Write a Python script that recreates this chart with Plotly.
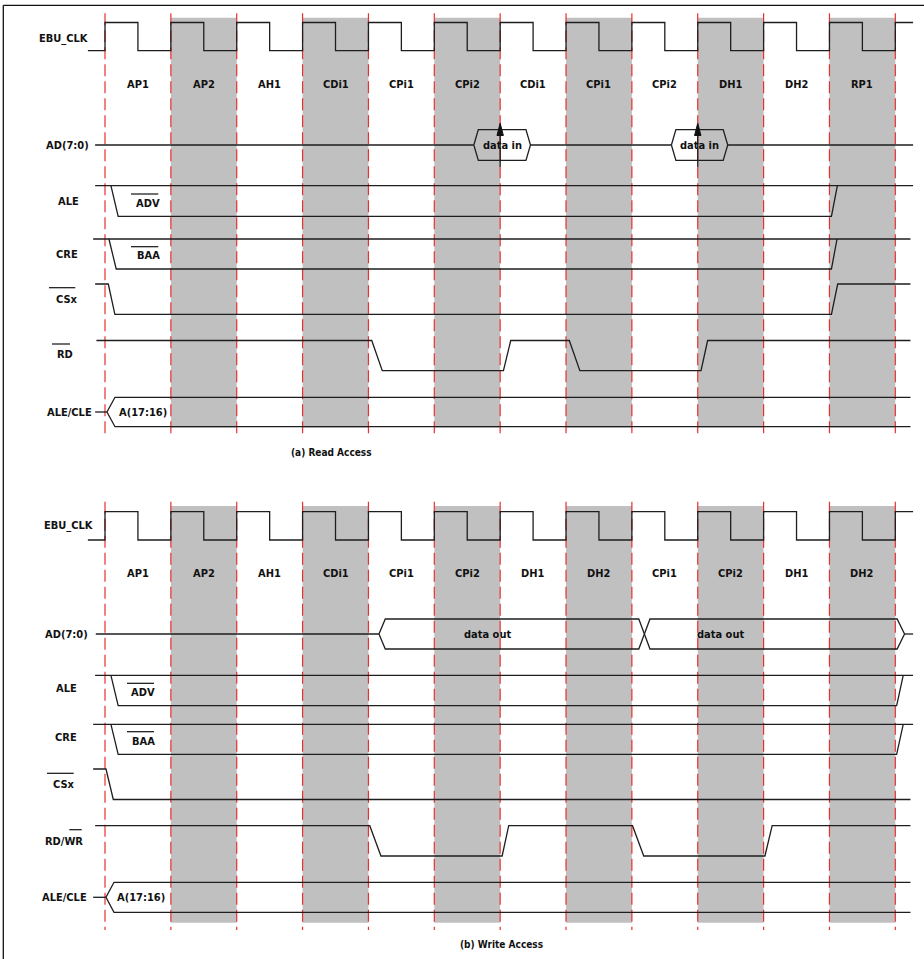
import plotly.graph_objects as go

# ---------------------------------------------------------------- data
# time axis is in EBU_CLK cycles (0 = first rising edge of the access)
read_phases = ["AP1", "AP2", "AH1", "CDi1", "CPi1", "CPi2", "CDi1", "CPi1", "CPi2", "DH1", "DH2", "RP1"]
write_phases = ["AP1", "AP2", "AH1", "CDi1", "CPi1", "CPi2", "DH1", "DH2", "CPi1", "CPi2", "DH1", "DH2"]

signal_names_read = ["EBU_CLK", "AD(7:0)", "ALE", "CRE", "CSx", "RD", "ALE/CLE"]
signal_names_write = ["EBU_CLK", "AD(7:0)", "ALE", "CRE", "CSx", "RD/WR", "ALE/CLE"]

# clock: level of each half cycle starting at t = 0 (last one is cut at clk_end)
clk_levels = [1, 0, 1, 0, 1, 0, 1, 0, 1, 0, 1, 0, 1, 0, 1, 0, 1, 0, 1, 0, 1, 0, 1, 0, 1]
clk_start, clk_end = -0.26, 12.27

# ---- (a) read access : (time, level) vertices
read_ale_t = [0.09, 0.20, 11.03, 11.12]
read_ale_v = [1, 0, 0, 1]
read_cre_t = [0.06, 0.17, 11.03, 11.115]
read_cre_v = [1, 0, 0, 1]
read_csx_t = [-0.15, 0.05, 0.15, 11.03, 11.125, 12.23]
read_csx_v = [1, 1, 0, 0, 1, 1]
read_rd_t = [-0.13, 4.05, 4.21, 6.05, 6.16, 7.05, 7.21, 9.05, 9.15, 12.23]
read_rd_v = [1, 1, 0, 0, 1, 1, 0, 0, 1, 1]
read_data_in = [(5.60, 6.46), (8.60, 9.455)]      # "data in" windows on AD(7:0)
read_sample_t = [6, 9]                             # sampling edges (arrows)
read_addr_bus = (-0.15, 0.03, 12.23)               # stub start, bus start, bus end

# ---- (b) write access
write_ale_t = [0.09, 0.20, 12.02, 12.12]
write_ale_v = [1, 0, 0, 1]
write_cre_t = [0.09, 0.20, 12.02, 12.12]
write_cre_v = [1, 0, 0, 1]
write_csx_t = [-0.18, 0.015, 0.126, 12.23]
write_csx_v = [1, 1, 0, 0]
write_rd_t = [-0.15, 4.02, 4.19, 6.03, 6.13, 8.01, 8.18, 10.02, 10.13, 12.23]
write_rd_v = [1, 1, 0, 0, 1, 1, 0, 0, 1, 1]
write_data_out = [(4.16, 8.19), (8.19, 12.14)]     # "data out" windows on AD(7:0)
write_addr_bus = (-0.18, 0.015, 12.23)

# ---------------------------------------------------------------- layout / style
W, H = 924, 959
X0_PX, CYCLE_PX = 105.0, 65.86


def px2t(px):
    return (px - X0_PX) / CYCLE_PX


T_MIN, T_MAX = px2t(0), px2t(W)
LINE = dict(color="#1e1e1e", width=1.3)
GRAY = "#c0c0c0"
RED = "rgb(232,48,48)"
FONT = "Liberation Sans Narrow, DejaVu Sans Condensed, Arial Narrow, sans-serif"
FS = 11
SHADED = [1, 3, 5, 7, 9, 11]
SIG_START, SIG_END = -0.15, 12.27

panels = [
    dict(phases=read_phases, names=signal_names_read,
         clk=(22.5, 50.7), phase_y=84, gray=(17.7, 427.7), dash=(13.3, 438.3),
         ad=(145, 15.4), ale=(185.7, 216.3), cre=(239, 269), csx=(284, 314.3),
         rd=(340.5, 370.7), bus=(412, 14.7),
         name_pos=[(63.5, 38), (67.5, 145), (68, 201), (66.5, 254), (67, 299.5), (65, 354), (69, 412)],
         bars=[(49, 75.3, 287.7), (52, 70, 344)],
         ale_t=read_ale_t, ale_v=read_ale_v, cre_t=read_cre_t, cre_v=read_cre_v,
         csx_t=read_csx_t, csx_v=read_csx_v, rd_t=read_rd_t, rd_v=read_rd_v,
         addr=read_addr_bus, ale_end=12.27, cre_end=12.23,
         adv=(148, 203.3, 131, 158.3, 194), baa=(148, 255.3, 131, 158.3, 246.7),
         a_lbl=(142.5, 412), caption="(a) Read Access", cap_pos=(331, 452)),
    dict(phases=write_phases, names=signal_names_write,
         clk=(511.7, 540), phase_y=573.3, gray=(506, 922.7), dash=(501.7, 930),
         ad=(634, 15), ale=(675.3, 705.7), cre=(724.3, 754.3), csx=(769, 799.5),
         rd=(825.7, 856), bus=(897.3, 15),
         name_pos=[(68, 525), (66.5, 634), (66.3, 688), (66, 737), (64, 784.5), (64.3, 841.7), (64.3, 897.7)],
         bars=[(47, 73.7, 773.3), (69.3, 81.7, 829.7)],
         ale_t=write_ale_t, ale_v=write_ale_v, cre_t=write_cre_t, cre_v=write_cre_v,
         csx_t=write_csx_t, csx_v=write_csx_v, rd_t=write_rd_t, rd_v=write_rd_v,
         addr=write_addr_bus, ale_end=12.27, cre_end=12.27,
         adv=(143, 692.3, 127, 154, 683.3), baa=(143.3, 741, 127, 154, 731.7),
         a_lbl=(140.8, 897.5), caption="(b) Write Access", cap_pos=(501.5, 944)),
]

fig = go.Figure()
shapes = []
annotations = []


def line(xs, ys, style=LINE):
    fig.add_trace(go.Scatter(x=xs, y=ys, mode="lines", line=style,
                             hoverinfo="skip", showlegend=False))


def wave(ts, vs, hi, lo):
    line(ts, [hi if v else lo for v in vs])


def hexbus(t0, t1, yc, h, d0, d1):
    line([t0, t0 + d0, t1 - d1, t1, t1 - d1, t0 + d0, t0],
         [yc, yc - h, yc - h, yc, yc + h, yc + h, yc])


def text(s, x, y, size=FS, xref="x"):
    annotations.append(dict(text=s, x=x, y=y, xref=xref, yref="y", showarrow=False,
                            xanchor="center", yanchor="middle",
                            font=dict(family=FONT, size=size, color="#111", weight="bold")))


def hbar(x0px, x1px, ypx):
    shapes.append(dict(type="line", xref="x", yref="y", x0=px2t(x0px), x1=px2t(x1px),
                       y0=ypx, y1=ypx, line=dict(color="#111", width=1.2), layer="above"))


for p in panels:
    # shaded phases and cycle boundaries
    for c in SHADED:
        shapes.append(dict(type="rect", xref="x", yref="y", x0=c, x1=c + 1,
                           y0=p["gray"][0], y1=p["gray"][1], fillcolor=GRAY,
                           line=dict(width=0), layer="below"))
    for c in range(len(p["phases"]) + 1):
        shapes.append(dict(type="line", xref="x", yref="y", x0=c, x1=c,
                           y0=p["dash"][0], y1=p["dash"][1], layer="below",
                           line=dict(color=RED, width=1.2, dash="12px,5px")))
    # phase labels
    for i, ph in enumerate(p["phases"]):
        text(ph, i + 0.5, p["phase_y"])

    # clock
    hi, lo = p["clk"]
    xs, ys = [clk_start, 0], [lo, lo]
    for i, lv in enumerate(clk_levels):
        ta, tb = i * 0.5, min((i + 1) * 0.5, clk_end)
        xs += [ta, tb]
        ys += [hi if lv else lo] * 2
    line(xs, ys)

    # AD(7:0)
    yc, h = p["ad"]
    if p is panels[0]:
        d = px2t(X0_PX + 4.5)
        pts = [SIG_START]
        for (a, b) in read_data_in:
            pts += [a, b]
        pts.append(SIG_END)
        for k in range(0, len(pts), 2):
            line([pts[k], pts[k + 1]], [yc, yc])
        for (a, b) in read_data_in:
            hexbus(a, b, yc, h, d, d)
            text("data in", (a + b) / 2, yc)
        for ts in read_sample_t:
            line([ts, ts], [166.7, 128])
            aw = px2t(X0_PX + 3.2)
            fig.add_trace(go.Scatter(x=[ts, ts - aw, ts + aw, ts], y=[123.3, 135.5, 135.5, 123.3],
                                     mode="lines", fill="toself", fillcolor="#111",
                                     line=dict(color="#111", width=1), hoverinfo="skip",
                                     showlegend=False))
    else:
        line([SIG_START + 0.01, write_data_out[0][0]], [yc, yc])
        line([write_data_out[-1][1], SIG_END], [yc, yc])
        dl, dx, dr = px2t(X0_PX + 6.3), px2t(X0_PX + 5.6), px2t(X0_PX + 7.4)
        (a1, b1), (a2, b2) = write_data_out
        hexbus(a1, b1, yc, h, dl, dx)
        hexbus(a2, b2, yc, h, dx, dr)
        text("data out", px2t(487.6), yc)
        text("data out", px2t(720.8), yc)

    # ALE (upper rail drawn through) and CRE
    hi, lo = p["ale"]
    line([SIG_START, p["ale_end"]], [hi, hi])
    wave(p["ale_t"], p["ale_v"], hi, lo)
    hi, lo = p["cre"]
    line([SIG_START - 0.03, p["cre_end"]], [hi, hi])
    wave(p["cre_t"], p["cre_v"], hi, lo)
    # CSx, RD
    wave(p["csx_t"], p["csx_v"], *p["csx"])
    wave(p["rd_t"], p["rd_v"], *p["rd"])
    # ALE/CLE address bus
    yc, h = p["bus"]
    s0, b0, e0 = p["addr"]
    op = b0 + px2t(X0_PX + 8)
    line([s0, b0], [yc, yc])
    line([e0, op, b0, op, e0], [yc - h, yc - h, yc, yc + h, yc + h])

    # signal names
    for nm, (cx, cy) in zip(p["names"], p["name_pos"]):
        text(nm, px2t(cx), cy)
    for (x0, x1, yy) in p["bars"]:
        hbar(x0, x1, yy)
    cx, cy, x0, x1, yy = p["adv"]
    text("ADV", px2t(cx), cy)
    hbar(x0, x1, yy)
    cx, cy, x0, x1, yy = p["baa"]
    text("BAA", px2t(cx), cy)
    hbar(x0, x1, yy)
    text("A(17:16)", px2t(p["a_lbl"][0]), p["a_lbl"][1])
    text(p["caption"], px2t(p["cap_pos"][0]), p["cap_pos"][1], size=10)

# frame (top and left edges)
shapes.append(dict(type="line", xref="x", yref="y", x0=px2t(3.3), x1=T_MAX, y0=5.3, y1=5.3,
                   line=dict(color="#111", width=1.3), layer="above"))
shapes.append(dict(type="line", xref="x", yref="y", x0=px2t(3.3), x1=px2t(3.3), y0=5.3, y1=H,
                   line=dict(color="#111", width=1.3), layer="above"))

fig.update_layout(
    width=W, height=H, margin=dict(l=0, r=0, t=0, b=0),
    paper_bgcolor="white", plot_bgcolor="white",
    xaxis=dict(range=[T_MIN, T_MAX], visible=False, fixedrange=True),
    yaxis=dict(range=[H, 0], visible=False, fixedrange=True),
    shapes=shapes, annotations=annotations, showlegend=False,
)
fig.write_html("out.html", config={"displayModeBar": False},
               post_script="document.body.style.margin='0';document.body.style.overflow='hidden';")
